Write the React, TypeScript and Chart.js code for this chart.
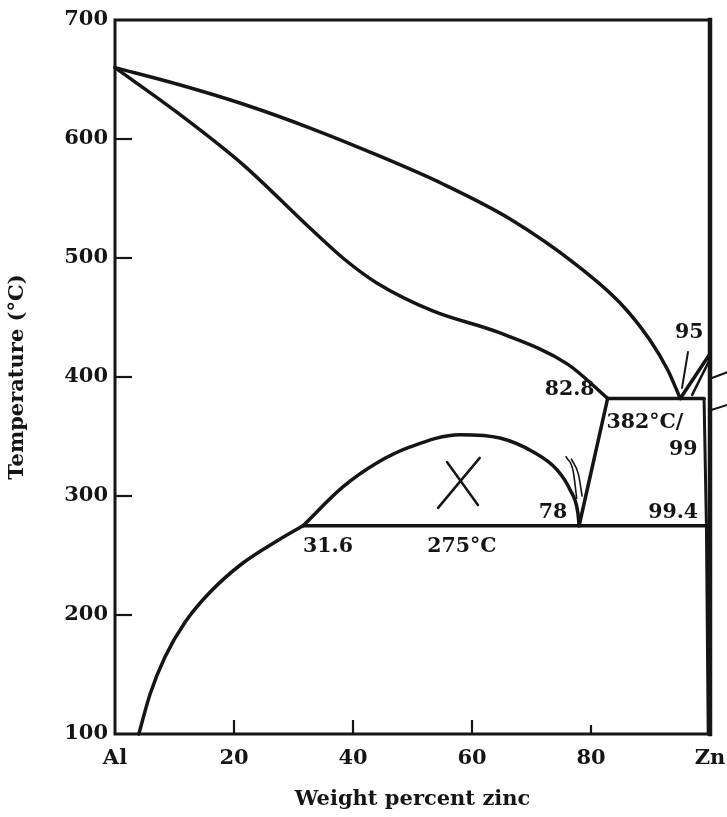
import React, { useEffect, useRef } from "react";
import { Chart, registerables } from "chart.js";

Chart.register(...registerables);

// ---- axis ticks ----
const xTickValues = [0, 20, 40, 60, 80, 100];
const xTickLabels = ["Al", "20", "40", "60", "80", "Zn"];
const yTickValues = [100, 200, 300, 400, 500, 600, 700];
const xInnerTicks = [20, 40, 60, 80];
const yInnerTicks = [200, 300, 400, 500, 600];

// ---- phase boundaries (wt% Zn, °C) ----
const liquidusX = [0, 10.4, 21.5, 32.8, 44.0, 55.1, 66.4, 77.6, 84.9, 89.9, 92.9, 95];
const liquidusY = [660, 646.2, 629.4, 609.2, 586.6, 562.2, 532.8, 494.1, 462.2, 431.1, 405.9, 382];

const solidusX = [0, 10.4, 21.5, 32.8, 38.3, 44.0, 53.4, 64.7, 76.0, 82.8];
const solidusY = [660, 622.5, 578.5, 525, 500, 479, 455.5, 437, 411, 382];

const solvusX = [4.0, 5.9, 8.4, 11.8, 16.0, 21.5, 27.2, 31.6];
const solvusY = [100, 133.6, 164.7, 194.1, 219.3, 243.7, 262.2, 275];

const domeX = [31.6, 38.3, 44.0, 49.6, 58.0, 64.7, 70.3, 74.3, 76.5, 77.8, 78];
const domeY = [275, 307.6, 327.7, 341.2, 351.5, 348.7, 337, 322, 305, 285.7, 275];

const eutectoidX = [31.6, 99.4];
const eutectoidY = [275, 275];

const monotecticX = [82.8, 99];
const monotecticY = [382, 382];

const edgeX = [78, 82.8];
const edgeY = [275, 382];

const znLiquidusX = [95, 100];
const znLiquidusY = [382, 419.5];

const znSolidusX = [97.0, 100];
const znSolidusY = [385, 415];

const znSolvusX = [99.0, 99.4, 99.7];
const znSolvusY = [382, 275, 100];

// ---- annotation strokes ----
const crossAX = [54.3, 61.3];
const crossAY = [290, 332];
const crossBX = [55.8, 61.0];
const crossBY = [328.6, 292.4];

const arrowAX = [75.8, 77.0, 77.6];
const arrowAY = [333, 321, 298];
const arrowBX = [76.7, 77.9, 78.5];
const arrowBY = [331, 318, 300];

const leader95X = [96.3, 95.3];
const leader95Y = [421, 390.8];

const leaderOut1X = [100.2, 102.9];
const leaderOut1Y = [399, 404];
const leaderOut2X = [100.2, 102.9];
const leaderOut2Y = [372.3, 376.5];

// ---- text labels ----
const labelTexts = ["95", "82.8", "382°C/", "99", "78", "99.4", "31.6", "275°C"];
const labelX = [96.5, 80.6, 82.6, 95.5, 73.6, 93.8, 35.8, 58.3];
const labelY = [437, 389, 362, 338.7, 285.7, 285.7, 257, 257];
const labelAlign: CanvasTextAlign[] = ["center", "right", "left", "center", "center", "center", "center", "center"];

const INK = "#151515";
const FONT = '"DejaVu Serif", "Liberation Serif", serif';

function pts(xs: number[], ys: number[]) {
  return xs.map((x, i) => ({ x, y: ys[i] }));
}

function line(xs: number[], ys: number[], width: number, smooth: boolean) {
  return {
    data: pts(xs, ys),
    showLine: true,
    pointRadius: 0,
    borderColor: INK,
    backgroundColor: INK,
    borderWidth: width,
    cubicInterpolationMode: smooth ? ("monotone" as const) : ("default" as const),
    tension: 0,
    clip: false as any,
    borderCapStyle: "round" as const,
    borderJoinStyle: "round" as const,
  };
}

const framePlugin = {
  id: "frame",
  afterDatasetsDraw(chart: any) {
    const { ctx, chartArea, scales } = chart;
    const { left, right, top, bottom } = chartArea;
    ctx.save();
    ctx.strokeStyle = INK;
    ctx.lineCap = "square";
    ctx.lineWidth = 3;
    ctx.beginPath();
    ctx.moveTo(right, top);
    ctx.lineTo(left, top);
    ctx.lineTo(left, bottom);
    ctx.lineTo(right, bottom);
    ctx.stroke();
    ctx.lineWidth = 4.5;
    ctx.beginPath();
    ctx.moveTo(right, top);
    ctx.lineTo(right, bottom);
    ctx.stroke();
    // inner tick marks
    ctx.lineWidth = 2.2;
    ctx.lineCap = "butt";
    yInnerTicks.forEach((v) => {
      const py = scales.y.getPixelForValue(v);
      ctx.beginPath();
      ctx.moveTo(left, py);
      ctx.lineTo(left + 17, py);
      ctx.stroke();
    });
    xInnerTicks.forEach((v) => {
      const px = scales.x.getPixelForValue(v);
      ctx.beginPath();
      ctx.moveTo(px, bottom);
      ctx.lineTo(px, bottom - (v === 80 ? 9 : 14));
      ctx.stroke();
    });
    // text labels
    ctx.fillStyle = INK;
    ctx.font = `bold 20.5px ${FONT}`;
    ctx.textBaseline = "middle";
    labelTexts.forEach((t, i) => {
      ctx.textAlign = labelAlign[i];
      ctx.fillText(t, scales.x.getPixelForValue(labelX[i]), scales.y.getPixelForValue(labelY[i]));
    });
    ctx.restore();
  },
};

export default function App() {
  const ref = useRef<HTMLCanvasElement | null>(null);
  useEffect(() => {
    if (!ref.current) return;
    const datasets = [
      line(liquidusX, liquidusY, 3.5, true),
      line(solidusX, solidusY, 3.5, true),
      line(solvusX, solvusY, 3.5, true),
      line(domeX, domeY, 3.5, true),
      line(eutectoidX, eutectoidY, 3.5, false),
      line(monotecticX, monotecticY, 3.5, false),
      line(edgeX, edgeY, 3.5, false),
      line(znLiquidusX, znLiquidusY, 3.5, false),
      line(znSolidusX, znSolidusY, 2.5, false),
      line(znSolvusX, znSolvusY, 3, false),
      line(crossAX, crossAY, 2.5, false),
      line(crossBX, crossBY, 2.5, false),
      line(arrowAX, arrowAY, 1.6, true),
      line(arrowBX, arrowBY, 1.6, true),
      line(leader95X, leader95Y, 2, false),
      line(leaderOut1X, leaderOut1Y, 2, false),
      line(leaderOut2X, leaderOut2Y, 2, false),
    ];
    const chart = new Chart(ref.current, {
      type: "scatter",
      data: { datasets: datasets as any },
      options: {
        animation: false,
        responsive: false,
        maintainAspectRatio: false,
        layout: { padding: { left: 0, right: 17, top: 20, bottom: 0 } },
        plugins: { legend: { display: false }, tooltip: { enabled: false } },
        scales: {
          x: {
            type: "linear",
            min: 0,
            max: 100,
            afterBuildTicks: (s: any) => {
              s.ticks = xTickValues.map((v) => ({ value: v }));
            },
            afterFit: (s: any) => {
              s.height = 83;
              s.paddingLeft = 0;
              s.paddingRight = 0;
            },
            ticks: {
              autoSkip: false,
              maxRotation: 0,
              padding: 12,
              color: INK,
              font: { family: FONT, weight: "bold", size: 21 },
              callback: (v: any) => {
                const i = xTickValues.indexOf(Number(v));
                return i >= 0 ? xTickLabels[i] : "";
              },
            },
            grid: { display: false, drawTicks: false },
            border: { display: false },
            title: {
              display: true,
              text: "Weight percent zinc",
              color: INK,
              font: { family: FONT, weight: "bold", size: 21 },
              padding: { top: 0, bottom: 5 },
            },
          },
          y: {
            type: "linear",
            min: 100,
            max: 700,
            afterBuildTicks: (s: any) => {
              s.ticks = yTickValues.map((v) => ({ value: v }));
            },
            afterFit: (s: any) => {
              s.width = 115;
              s.paddingTop = 0;
              s.paddingBottom = 0;
            },
            ticks: {
              padding: 7,
              color: INK,
              font: { family: FONT, weight: "bold", size: 21 },
            },
            grid: { display: false, drawTicks: false },
            border: { display: false },
            title: {
              display: true,
              text: "Temperature (°C)",
              color: INK,
              font: { family: FONT, weight: "bold", size: 21 },
              padding: { top: 5, bottom: 0 },
            },
          },
        },
      },
      plugins: [framePlugin],
    });
    return () => chart.destroy();
  }, []);
  return (
    <div style={{ position: "absolute", left: 0, top: 0, width: 727, height: 817, background: "#fff" }}>
      <canvas ref={ref} width={727} height={817} />
    </div>
  );
}
